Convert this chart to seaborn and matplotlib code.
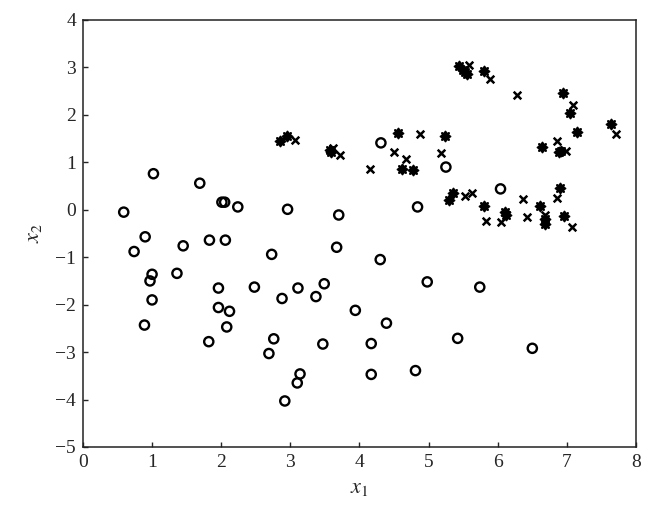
import numpy as np
import pandas as pd
import seaborn as sns
import matplotlib.pyplot as plt

# class 1: open circles
circ_x1 = [0.59, 1.02, 1.69, 2.01, 2.05, 2.24, 2.96, 3.70, 0.90, 0.74, 1.45, 1.83, 2.06,
           2.73, 3.67, 4.30, 1.00, 0.97, 1.36, 1.00, 1.96, 2.48, 3.11, 3.49, 3.37, 2.88,
           1.96, 2.12, 2.08, 3.94, 0.89, 1.82, 2.76, 2.69, 3.47, 4.17, 3.14, 3.10, 4.17,
           2.92, 4.31, 5.25, 6.04, 4.84, 4.98, 5.74, 4.39, 5.42, 6.50, 4.81]
circ_x2 = [-0.05, 0.76, 0.56, 0.16, 0.16, 0.06, 0.01, -0.11, -0.57, -0.88, -0.76, -0.64, -0.64,
           -0.94, -0.79, -1.05, -1.36, -1.50, -1.34, -1.90, -1.65, -1.63, -1.65, -1.56, -1.83, -1.87,
           -2.06, -2.14, -2.47, -2.12, -2.43, -2.78, -2.72, -3.03, -2.83, -2.82, -3.46, -3.65, -3.47,
           -4.03, 1.41, 0.90, 0.44, 0.06, -1.52, -1.63, -2.39, -2.71, -2.92, -3.39]

# class 2: filled asterisks
star_x1 = [2.85, 2.95, 3.57, 3.59, 4.55, 5.23, 4.61, 4.78, 5.44, 5.50, 5.55, 5.52, 5.80,
           6.94, 7.05, 7.14, 7.64, 6.64, 6.89, 6.92, 5.35, 5.29, 5.80, 6.10, 6.12, 6.61,
           6.68, 6.69, 6.96, 6.90]
star_x2 = [1.46, 1.55, 1.26, 1.22, 1.61, 1.55, 0.86, 0.84, 3.03, 2.95, 2.86, 2.90, 2.92,
           2.47, 2.04, 1.64, 1.80, 1.33, 1.21, 1.24, 0.36, 0.20, 0.08, -0.04, -0.10, 0.08,
           -0.20, -0.29, -0.13, 0.45]

# class 3: crosses
cross_x1 = [3.07, 3.62, 3.72, 4.15, 4.50, 4.67, 4.88, 5.18, 5.58, 5.89, 6.28, 7.09, 7.71,
            6.86, 6.99, 5.53, 5.63, 6.37, 6.85, 5.83, 6.04, 6.43, 6.68, 7.08]
cross_x2 = [1.48, 1.30, 1.15, 0.86, 1.22, 1.06, 1.59, 1.19, 3.06, 2.76, 2.41, 2.21, 1.59,
            1.46, 1.24, 0.28, 0.36, 0.23, 0.24, -0.23, -0.26, -0.15, -0.12, -0.36]

x_ticks = [0, 1, 2, 3, 4, 5, 6, 7, 8]
y_ticks = [-5, -4, -3, -2, -1, 0, 1, 2, 3, 4]

sns.set_style('white')
plt.rcParams['font.family'] = ['Liberation Serif', 'DejaVu Serif']
plt.rcParams['mathtext.fontset'] = 'stix'

fig = plt.figure(figsize=(6.53, 5.22), dpi=100)
ax = fig.add_axes([0.127, 0.1437, 0.847, 0.818])

sns.scatterplot(x=circ_x1, y=circ_x2, ax=ax, marker='o', s=44,
                facecolor='none', edgecolor='black', linewidth=1.7)
sns.scatterplot(x=star_x1, y=star_x2, ax=ax, marker=(8, 1, 0), s=48,
                color='black', edgecolor='black', linewidth=1.6)
sns.scatterplot(x=cross_x1, y=cross_x2, ax=ax, marker='x', s=30,
                color='black', linewidth=1.8)

ax.set_xlim(0, 8)
ax.set_ylim(-5, 4)
ax.set_xticks(x_ticks)
ax.set_yticks(y_ticks)
ax.tick_params(direction='in', length=3.5, width=1, labelsize=14,
               left=True, bottom=True, top=False, right=False, pad=5)
for sp in ax.spines.values():
    sp.set_linewidth(1.1)
    sp.set_color('#222222')

ax.set_xlabel('$x_1$', fontsize=16, labelpad=6)
ax.set_ylabel('$x_2$', fontsize=16, labelpad=8)

fig.savefig('out.png', dpi=100)
